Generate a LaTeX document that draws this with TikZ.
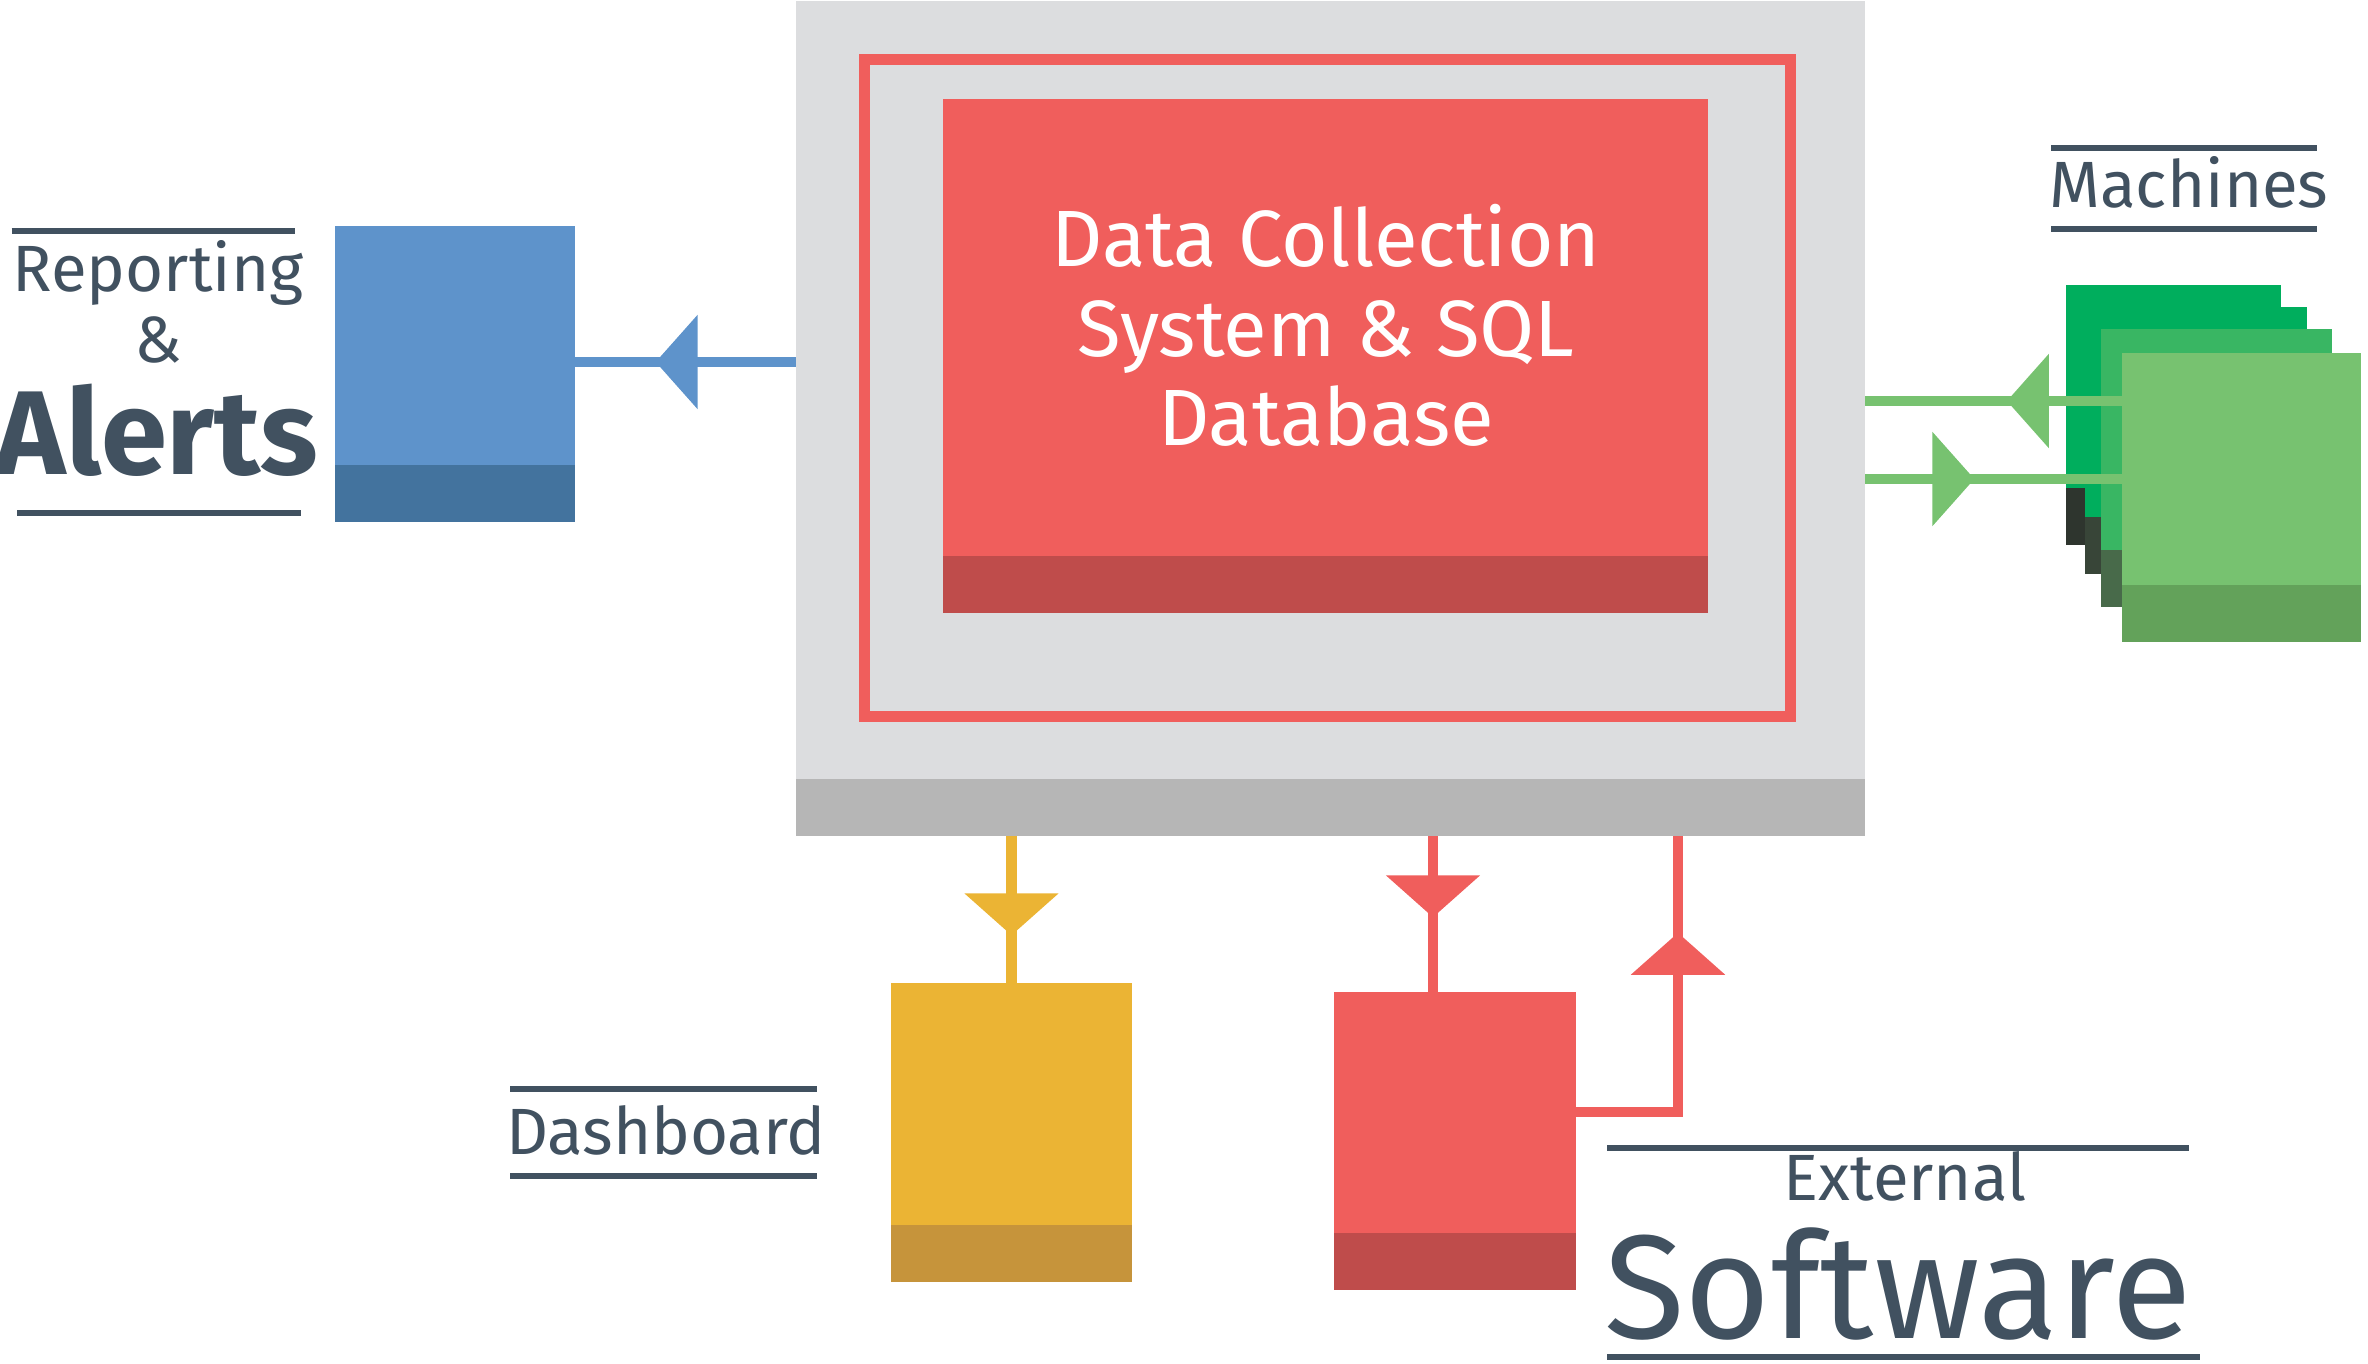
\documentclass[tikz,border=0pt]{standalone}
\usepackage{fontspec}
\setmainfont{Fira Sans}
\usetikzlibrary{arrows.meta,decorations.markings}

\definecolor{inkC}{HTML}{415160}
\definecolor{hubC}{HTML}{DCDDDF}
\definecolor{hubD}{HTML}{B6B6B6}
\definecolor{redC}{HTML}{F05E5C}
\definecolor{redD}{HTML}{BF4C4B}
\definecolor{blueC}{HTML}{5E93CB}
\definecolor{blueD}{HTML}{43739E}
\definecolor{yelC}{HTML}{EBB434}
\definecolor{yelD}{HTML}{C6943B}
\definecolor{grnA}{HTML}{00AE5D}
\definecolor{grnAD}{HTML}{2E352E}
\definecolor{grnBD}{HTML}{384538}
\definecolor{grnC}{HTML}{39B663}
\definecolor{grnCD}{HTML}{486A4A}
\definecolor{grnE}{HTML}{77C270}
\definecolor{grnED}{HTML}{63A25A}

\begin{document}
\begin{tikzpicture}[x=0.01cm, y=-0.01cm,
        block/.style 2 args={rectangle, inner sep=0pt, outer sep=0pt, fill=#1,
            path picture={\fill[#2] (path picture bounding box.south west)
                rectangle ([yshift=0.57cm]path picture bounding box.south east);}},
        wire/.style={line width=0.105cm, draw=#1},
        midtip/.style={postaction={decorate}, decoration={markings,
            mark=at position #1 with {\arrow{Triangle[length=0.42cm, width=0.92cm]}}}},
        rule/.style={line width=0.06cm, draw=inkC},
        lbl/.style={text=inkC, inner sep=0pt, anchor=base, font=\fontsize{18.6}{22}\selectfont}]

        \useasboundingbox (0,0) rectangle (2368,1364);

        \node[block={hubC}{hubD}, minimum width=10.69cm, minimum height=8.35cm] (hub) at (1330.5,418.5) {};
        \node[draw=redC, line width=0.11cm, inner sep=0pt, minimum width=9.26cm, minimum height=6.57cm] (frame) at (1327.5,388) {};
        \node[block={redC}{redD}, minimum width=7.65cm, minimum height=5.14cm] (core) at (1325.5,356) {};
        \node[text=white, align=center, anchor=base, inner sep=0pt,
            font=\fontsize{22.7}{25.5}\selectfont] (coretxt) at (1326,446) {Data Collection\\System \& SQL\\Database};

        \node[block={blueC}{blueD}, minimum width=2.40cm, minimum height=2.96cm] (report) at (455,374) {};
        \node[block={yelC}{yelD}, minimum width=2.41cm, minimum height=2.99cm] (dash) at (1011.5,1132.5) {};
        \node[block={redC}{redD}, minimum width=2.42cm, minimum height=2.98cm] (ext) at (1455,1141) {};

        \node[block={grnA}{grnAD}, minimum width=2.15cm, minimum height=2.60cm] (mach1) at (2173.5,415) {};
        \node[block={grnA}{grnBD}, minimum width=2.22cm, minimum height=2.67cm] (mach2) at (2196,440.5) {};
        \node[block={grnC}{grnCD}, minimum width=2.31cm, minimum height=2.78cm] (mach3) at (2216.5,468) {};
        \node[block={grnE}{grnED}, minimum width=2.39cm, minimum height=2.89cm] (mach4) at (2241.5,497.5) {};

        \coordinate (rowA) at (0,362);
        \coordinate (rowB) at (0,401);
        \coordinate (rowC) at (0,479);
        \coordinate (rowD) at (0,1112);
        \coordinate (colA) at (1433,0);
        \coordinate (colB) at (1678,0);

        \draw[wire=grnE, midtip=1.15cm] (mach4.west |- rowB) -- (hub.east |- rowB);
        \draw[wire=grnE, midtip=1.09cm] (hub.east |- rowC) -- (mach4.west |- rowC);
        \draw[wire=blueC, midtip=1.40cm] (hub.west |- rowA) -- (report.east |- rowA);
        \draw[wire=yelC, midtip=0.99cm] (hub.south -| dash.north) -- (dash.north);
        \draw[wire=redC, midtip=0.81cm] (hub.south -| colA) -- (ext.north -| colA);
        \draw[wire=redC, midtip=2.81cm] (ext.east |- rowD) -| (hub.south -| colB);

        \node[lbl] (lblrep) at (158,292) {Reporting};
        \node[lbl] (lblamp) at (158,363) {\&};
        \node[lbl, font=\fontsize{33.9}{40}\selectfont\bfseries] (lblalerts) at (157,475) {Alerts};
        \draw[rule] (11.5,231) -- (295,231);
        \draw[rule] (17,513) -- (301,513);

        \node[lbl] (lblmach) at (2189,208) {Machines};
        \draw[rule] (2051,148) -- (2317,148);
        \draw[rule] (2051,229) -- (2317,229);

        \node[lbl] (lbldash) at (666,1155) {Dashboard};
        \draw[rule] (510,1089) -- (817,1089);
        \draw[rule] (510,1176) -- (817,1176);

        \node[lbl] (lblext) at (1905,1201) {External};
        \node[lbl, font=\fontsize{42}{48}\selectfont] (lblsoft) at (1898,1338) {Software};
        \draw[rule] (1607,1148) -- (2189,1148);
        \draw[rule] (1607,1357) -- (2200,1357);
    \end{tikzpicture}
\end{document}
